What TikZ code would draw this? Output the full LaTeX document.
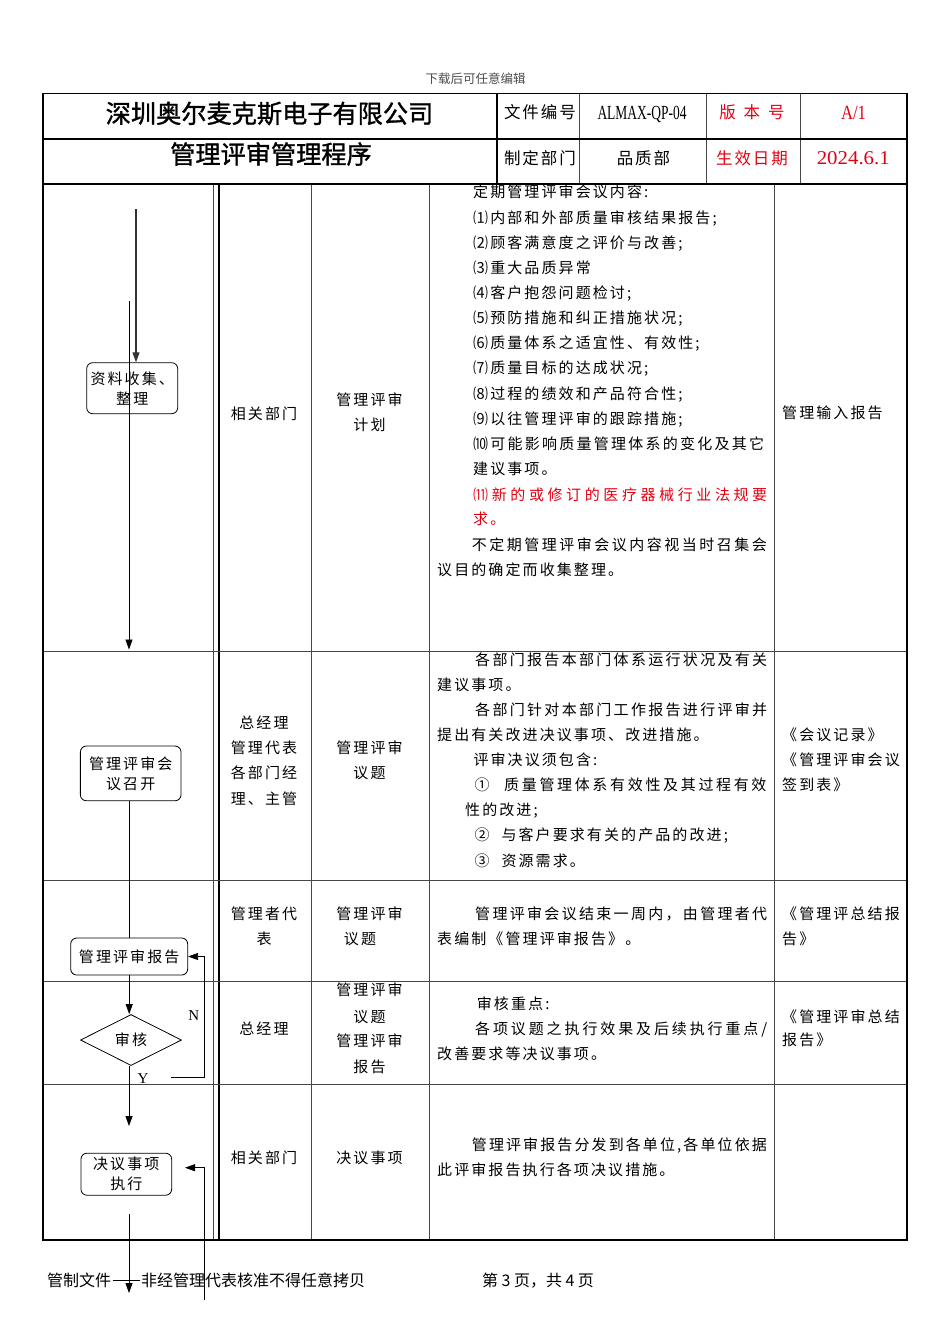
\documentclass[tikz,border=0pt]{standalone}
\usepackage{fontspec}
\setmainfont{Noto Sans CJK SC}
\newfontfamily\bodyf[LetterSpace=14]{Noto Sans CJK SC}
\newfontfamily\headf[LetterSpace=12]{Noto Sans CJK SC}
\newfontfamily\plainf{Noto Sans CJK SC}
\newfontfamily\titlef[FakeBold=1.2]{Noto Sans CJK SC}
\newfontfamily\serifl{Liberation Serif}
\usetikzlibrary{arrows.meta,shapes.geometric}
\definecolor{rd}{RGB}{228,0,18}
\definecolor{ln}{RGB}{70,70,70}
\def\jend{JEND}
\def\jfirst#1{#1\jrest}
\def\jrest#1{\ifx\jend#1\else\hfil#1\expandafter\jrest\fi}
\newcommand\jl[2]{\hbox to #1{\jfirst#2\jend}}
\tikzset{
  bt/.style={inner sep=0pt, font=\bodyf\fontsize{15}{18}\selectfont},
  hd/.style={inner sep=0pt, anchor=base, font=\headf\fontsize{16.5}{20}\selectfont},
  thickln/.style={line width=1.6pt, black},
  thinln/.style={line width=0.8pt, ln},
  fb/.style={draw, line width=0.8pt, rounded corners=6pt, inner sep=0pt, align=center,
             font=\bodyf\fontsize{15}{20}\selectfont},
  arr/.style={line width=0.8pt, -{Triangle[length=10pt,width=7pt]}},
  lbl/.style={inner sep=1pt, font=\serifl\fontsize{15}{17}\selectfont}
}
\newcommand\txl[4]{\node[bt,anchor=base west] (#1) at (#2,{#3+5.7}) {#4};}
\newcommand\ctl[4]{\node[bt,anchor=base] (#1) at ({#2+1},{#3+5.7}) {#4};}
\begin{document}
\begin{tikzpicture}[x=1pt,y=-1pt]
\useasboundingbox (0,0) rectangle (950,1344);
\fill[white] (0,0) rectangle (950,1344);

% top note
\node[inner sep=0pt, anchor=base, text=black!70, font=\plainf\fontsize{12.5}{14}\selectfont] (dl) at (475.5,83.8) {下载后可任意编辑};

% ---------- table lines ----------
\draw[thinln] (213,184) -- (213,1240);
\draw[thickln] (219,184) -- (219,1240);
\draw[thinln] (311,184) -- (311,1240);
\draw[thinln] (429,184) -- (429,1240);
\draw[thinln] (774,184) -- (774,1240);
\foreach \yy in {651,880,981,1084} \draw[thinln] (43,\yy) -- (907,\yy);
\draw[thinln] (579,93.5) -- (579,184);
\draw[thinln] (706.5,93.5) -- (706.5,184);
\draw[thinln] (800,93.5) -- (800,184);
\draw[thickln] (497,93.5) -- (497,184);
\draw[thickln] (43,139) -- (907,139);
\draw[thickln] (43,184) -- (907,184);
\draw[thickln] (43,93.5) rectangle (907,1240);

% ---------- header ----------
\node[inner sep=0pt, anchor=base, font=\titlef\fontsize{25.2}{30}\selectfont] (title) at (269.5,122.9) {深圳奥尔麦克斯电子有限公司};
\node[inner sep=0pt, anchor=base, font=\titlef\fontsize{25.2}{30}\selectfont] (subtitle) at (271,163.6) {管理评审管理程序};
\node[hd] (h1) at (540,118) {文件编号};
\node[hd] (h2) at (540,164.6) {制定部门};
\node[hd] (h3) at (643.5,164.3) {品质部};
\node[hd, text=rd] (h4) at (752,118) {版\hspace{8pt}本\hspace{8pt}号};
\node[hd, text=rd] (h5) at (752,164.3) {生效日期};
\node[inner sep=0pt, anchor=base] (h6) at (642,119.3) {\resizebox{89pt}{13.3pt}{\serifl ALMAX-QP-04}};
\node[inner sep=0pt, anchor=base, text=rd] (h7) at (853.5,119.6) {\resizebox{25pt}{13.3pt}{\serifl A/1}};
\node[inner sep=0pt, anchor=base, text=rd] (h8) at (853.3,164.2) {\resizebox{73pt}{13pt}{\serifl 2024.6.1}};

% ---------- column 2 (responsible) ----------
\ctl{k1}{263}{413.3}{相关部门}
\ctl{k2a}{263}{722.7}{总经理}
\ctl{k2b}{263}{747.7}{管理代表}
\ctl{k2c}{263}{772.7}{各部门经}
\ctl{k2d}{263}{798.3}{理、主管}
\ctl{k3a}{263}{913.3}{管理者代}
\ctl{k3b}{263}{938.3}{表}
\ctl{k4}{263}{1028.3}{总经理}
\ctl{k5}{263}{1157.7}{相关部门}

% ---------- column 3 (input) ----------
\ctl{m1a}{368.5}{400}{管理评审}
\ctl{m1b}{368.5}{425}{计划}
\ctl{m2a}{368.5}{747.7}{管理评审}
\ctl{m2b}{368.5}{772.7}{议题}
\ctl{m3a}{368.5}{913.3}{管理评审}
\ctl{m3b}{359}{938.3}{议题}
\ctl{m4a}{368.5}{990}{管理评审}
\ctl{m4b}{368.5}{1016.7}{议题}
\ctl{m4c}{368.5}{1041}{管理评审}
\ctl{m4d}{368.5}{1066.7}{报告}
\ctl{m5}{368.5}{1157.7}{决议事项}

% ---------- column 4 (content) ----------
\txl{r1a}{473}{192}{定期管理评审会议内容:}
\txl{r1b}{473}{217.7}{⑴内部和外部质量审核结果报告;}
\txl{r1c}{473}{242.7}{⑵顾客满意度之评价与改善;}
\txl{r1d}{473}{267.7}{⑶重大品质异常}
\txl{r1e}{473}{292.7}{⑷客户抱怨问题检讨;}
\txl{r1f}{473}{317.7}{⑸预防措施和纠正措施状况;}
\txl{r1g}{473}{342.7}{⑹质量体系之适宜性、有效性;}
\txl{r1h}{473}{367.7}{⑺质量目标的达成状况;}
\txl{r1i}{473}{393.3}{⑻过程的绩效和产品符合性;}
\txl{r1j}{473}{418.3}{⑼以往管理评审的跟踪措施;}
\txl{r1k}{473}{443.3}{\jl{291pt}{⑽可能影响质量管理体系的变化及其它}}
\txl{r1l}{473}{468.3}{建议事项。}
\txl{r1m}{473}{494.3}{\color{rd}\jl{294pt}{⑾新的或修订的医疗器械行业法规要}}
\txl{r1n}{473}{518.3}{\color{rd}求。}
\txl{r1o}{471.7}{544.3}{\jl{295pt}{不定期管理评审会议内容视当时召集会}}
\txl{r1p}{437}{569.3}{议目的确定而收集整理。}

\txl{r2a}{475}{660}{\jl{292pt}{各部门报告本部门体系运行状况及有关}}
\txl{r2b}{437}{685}{建议事项。}
\txl{r2c}{475}{710}{\jl{292pt}{各部门针对本部门工作报告进行评审并}}
\txl{r2d}{437}{735}{提出有关改进决议事项、改进措施。}
\txl{r2e}{473.3}{760}{评审决议须包含:}
\txl{r2f}{474.3}{785}{\jl{292pt}{{①\hspace{12pt}}质量管理体系有效性及其过程有效}}
\txl{r2g}{465}{810}{性的改进;}
\txl{r2h}{474.3}{835}{②\hspace{12pt}与客户要求有关的产品的改进;}
\txl{r2i}{474.3}{861}{③\hspace{12pt}资源需求。}

\txl{r3a}{475}{913.3}{\jl{292pt}{管理评审会议结束一周内，由管理者代}}
\txl{r3b}{437}{938.3}{表编制《管理评审报告》。}

\txl{r4a}{476.7}{1003.3}{审核重点:}
\txl{r4b}{475}{1028.3}{\jl{292pt}{各项议题之执行效果及后续执行重点/}}
\txl{r4c}{437}{1053.3}{改善要求等决议事项。}

\txl{r5a}{471.7}{1145}{\jl{295pt}{管理评审报告分发到各单位,各单位依据}}
\txl{r5b}{437}{1170}{此评审报告执行各项决议措施。}

% ---------- column 5 (records) ----------
\txl{c1}{782}{412.7}{管理输入报告}
\txl{c2a}{782}{735}{《会议记录》}
\txl{c2b}{782}{760}{《管理评审会议}
\txl{c2c}{782}{785}{签到表》}
\txl{c3a}{782}{913.3}{《管理评总结报}
\txl{c3b}{782}{938.3}{告》}
\txl{c4a}{782}{1016.7}{《管理评审总结}
\txl{c4b}{782}{1040}{报告》}

% ---------- flowchart ----------
\node[fb, minimum width=91pt, minimum height=51pt] (b1) at (132.2,388.2) {资料收集、\\整理};
\node[fb, minimum width=100.7pt, minimum height=54.7pt] (b2) at (130.7,773.4) {管理评审会\\议召开};
\node[fb, minimum width=117pt, minimum height=37pt] (b3) at (129.2,956.5) {管理评审报告};
\node[draw, line width=0.8pt, diamond, aspect=2, minimum width=101pt, minimum height=51pt, inner sep=0pt,
      font=\bodyf\fontsize{15}{18}\selectfont] (d1) at (131,1040) {审核};
\node[fb, minimum width=90.7pt, minimum height=42pt] (b4) at (126.3,1174.2) {决议事项\\执行};

\coordinate (s1) at (136,209);
\coordinate (s2) at (129,301);
\coordinate (e2) at (129,649.5);
\coordinate (t1) at (129,1126);
\coordinate (n0) at (171,1077.5);
\coordinate (nx) at (204,1077.5);
\coordinate (f0) at (129,1214);
\coordinate (f1) at (129,1293);
\coordinate (g0) at (204,1300);
\coordinate (g1) at (185,1167.7);

\draw[arr, line width=1.1pt, black!80] (s1) -- (s1 |- b1.north);
\draw[arr] (s2) -- (e2);
\draw[line width=0.8pt] (b3.north |- b2.south) -- (b3.north);
\draw[arr] (b3.south) -- (b3.south |- d1.north);
\draw[arr] (d1.south -| t1) -- (t1);
\draw[arr] (n0) -- (nx) |- (b3.east);
\draw[arr] (f0) -- (f1);
\draw[arr] (g0) |- (g1);

\node[lbl] (lN) at (193.7,1015.7) {N};
\node[lbl, fill=white] (lY) at (143,1078.5) {Y};

% ---------- footer ----------
\node[inner sep=0pt, anchor=base west, font=\plainf\fontsize{16}{18}\selectfont] (ft1) at (47,1286) {管制文件\hbox to 30pt{\hss\rule[5.2pt]{27pt}{0.6pt}\hss}非经管理代表核准不得任意拷贝};
\node[inner sep=0pt, anchor=base west, font=\plainf\fontsize{16}{18}\selectfont] (ft2) at (482,1286) {第\hspace{3.5pt}3\hspace{3.5pt}页，共\hspace{3.5pt}4\hspace{3.5pt}页};
\end{tikzpicture}
\end{document}
